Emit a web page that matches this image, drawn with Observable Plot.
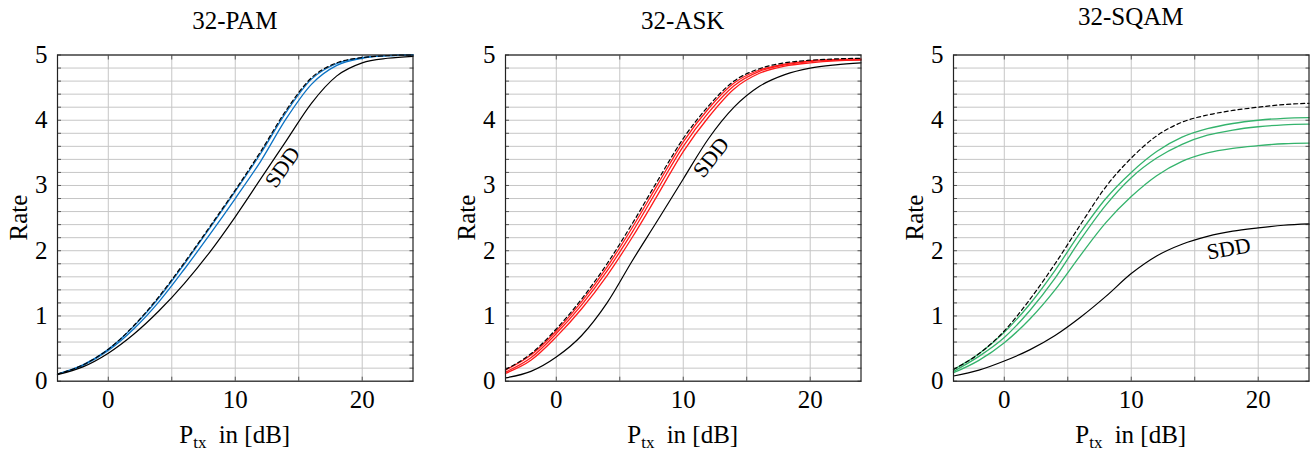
<!DOCTYPE html>
<html>
<head>
<meta charset="utf-8">
<script src="https://cdn.jsdelivr.net/npm/d3@7"></script>
<script src="https://cdn.jsdelivr.net/npm/@observablehq/plot@0.6"></script>
<style>
  body { margin: 0; background: #fff; }
  #wrap { position: relative; width: 1315px; height: 455px; overflow: hidden; background: #fff; }
  #wrap svg { position: absolute; top: 0; }
  #wrap svg text { font-family: 'Liberation Serif', 'Times New Roman', serif; }
</style>
</head>
<body>
<div id="wrap"></div>
<script>
// ---------- data ----------
const ptx = [-4, -2, 0, 2, 4, 6, 8, 10, 12, 14, 16, 18, 20, 22, 24];

const pamBound = [0.11, 0.25, 0.49, 0.85, 1.30, 1.82, 2.37, 2.93, 3.52, 4.15, 4.65, 4.88, 4.96, 4.99, 5.00];
const pamBlue1 = [0.11, 0.25, 0.49, 0.84, 1.28, 1.80, 2.35, 2.91, 3.49, 4.12, 4.63, 4.87, 4.96, 4.99, 5.00];
const pamBlue2 = [0.11, 0.24, 0.47, 0.80, 1.22, 1.72, 2.25, 2.80, 3.37, 4.02, 4.55, 4.84, 4.95, 4.99, 5.00];
const pamSDD   = [0.10, 0.22, 0.43, 0.72, 1.08, 1.50, 1.98, 2.52, 3.10, 3.68, 4.26, 4.68, 4.88, 4.95, 4.98];

const askBound = [0.18, 0.42, 0.80, 1.26, 1.80, 2.42, 3.08, 3.72, 4.22, 4.60, 4.79, 4.88, 4.92, 4.94, 4.95];
const askRed1  = [0.17, 0.40, 0.77, 1.22, 1.75, 2.36, 3.02, 3.67, 4.18, 4.57, 4.77, 4.86, 4.91, 4.93, 4.94];
const askRed2  = [0.14, 0.36, 0.73, 1.17, 1.69, 2.29, 2.95, 3.60, 4.12, 4.53, 4.75, 4.85, 4.90, 4.92, 4.93];
const askRed3  = [0.12, 0.32, 0.68, 1.11, 1.62, 2.21, 2.86, 3.52, 4.05, 4.48, 4.72, 4.83, 4.88, 4.91, 4.92];
const askSDD   = [0.05, 0.15, 0.37, 0.70, 1.20, 1.85, 2.47, 3.10, 3.72, 4.20, 4.52, 4.70, 4.80, 4.85, 4.88];

const sqamBound  = [0.18, 0.42, 0.77, 1.25, 1.80, 2.40, 2.98, 3.42, 3.76, 3.97, 4.08, 4.15, 4.20, 4.24, 4.26];
const sqamGreen1 = [0.18, 0.42, 0.75, 1.18, 1.70, 2.28, 2.80, 3.20, 3.52, 3.74, 3.87, 3.95, 4.00, 4.03, 4.04];
const sqamGreen2 = [0.15, 0.38, 0.67, 1.08, 1.58, 2.17, 2.70, 3.12, 3.42, 3.63, 3.77, 3.85, 3.90, 3.93, 3.94];
const sqamGreen3 = [0.13, 0.32, 0.59, 0.95, 1.40, 1.93, 2.43, 2.83, 3.15, 3.37, 3.50, 3.57, 3.61, 3.64, 3.65];
const sqamSDD    = [0.08, 0.17, 0.31, 0.48, 0.70, 0.98, 1.30, 1.65, 1.92, 2.10, 2.22, 2.30, 2.35, 2.39, 2.41];

const panelTitles = ["32-PAM", "32-ASK", "32-SQAM"];
const xTickLabels = [0, 10, 20];
const yTickLabels = [0, 1, 2, 3, 4, 5];
const xGridTicks = [0, 5, 10, 15, 20];
const yGridTicks = d3.range(0, 26).map(i => i / 5);
const sddLabelAt = [
  {x: 13.73, y: 3.28}, {x: 12.2, y: 3.43}, {x: 17.68, y: 2.03}
];

// ---------- layout/styles ----------
const FONT = "Liberation Serif";
const panels = [
  {frameLeft: 57.0, colored: [pamBlue1, pamBlue2], color: "#0a72c4", bound: pamBound, sdd: pamSDD, rot: -55, titleBase: 29},
  {frameLeft: 504.5, colored: [askRed1, askRed2, askRed3], color: "#ff1a1a", bound: askBound, sdd: askSDD, rot: -52, titleBase: 29},
  {frameLeft: 952.7, colored: [sqamGreen1, sqamGreen2, sqamGreen3], color: "#34b36c", bound: sqamBound, sdd: sqamSDD, rot: -10, titleBase: 25}
];
const FRAME_W = 355.5, ML = 56, MT = 54.5, MB = 74.3, H = 455;

const wrap = document.getElementById("wrap");

panels.forEach((p, pi) => {
  const mr = pi === 2 ? 6 : 12;
  const width = ML + FRAME_W + mr;
  const toRows = (vals, key) => vals.map((v, i) => ({x: ptx[i], y: v, key}));
  const coloredRows = p.colored.flatMap((vals, k) => toRows(vals, "c" + k));
  const boundRows = toRows(p.bound, "bound");
  const sddRows = toRows(p.sdd, "sdd");
  const noText = () => "";
  const intText = d => String(d);
  const svg = Plot.plot({
    width, height: H,
    marginLeft: ML, marginRight: mr, marginTop: MT, marginBottom: MB,
    style: {fontFamily: FONT, fontSize: "25px", color: "#000", background: "transparent", maxWidth: "none"},
    x: {domain: [-4, 24], label: null},
    y: {domain: [0, 5], label: null},
    marks: [
      Plot.gridY(yGridTicks, {stroke: "#c6c6c6", strokeOpacity: 1, strokeWidth: 1}),
      Plot.gridX(xGridTicks, {stroke: "#c6c6c6", strokeOpacity: 1, strokeWidth: 1}),
      Plot.axisY(yGridTicks, {anchor: "left", tickSize: -4, tickFormat: noText, stroke: "#555", label: null}),
      Plot.axisY(yGridTicks, {anchor: "right", tickSize: -4, tickFormat: noText, stroke: "#555", label: null}),
      Plot.axisX(xGridTicks, {anchor: "bottom", tickSize: -4, tickFormat: noText, stroke: "#555", label: null}),
      Plot.axisX(xGridTicks, {anchor: "top", tickSize: -4, tickFormat: noText, stroke: "#555", label: null}),
      Plot.axisY(yTickLabels, {anchor: "left", tickSize: 0, tickPadding: 10, label: null, fontSize: 25, fontFamily: FONT, fontVariant: "normal", tickFormat: intText}),
      Plot.axisX(xTickLabels, {anchor: "bottom", tickSize: 0, tickPadding: 9.5, label: null, fontSize: 25, fontFamily: FONT, fontVariant: "normal", tickFormat: intText}),
      Plot.line(coloredRows, {x: "x", y: "y", z: "key", stroke: p.color, strokeWidth: 1.3, curve: "monotone-x"}),
      Plot.line(sddRows, {x: "x", y: "y", stroke: "#000", strokeWidth: 1.2, curve: "monotone-x"}),
      Plot.line(boundRows, {x: "x", y: "y", stroke: "#000", strokeWidth: 1.2, strokeDasharray: "4,3", curve: "monotone-x"}),
      Plot.text([sddLabelAt[pi]], {x: "x", y: "y", text: () => "SDD", rotate: p.rot, fontSize: 22, fontFamily: FONT, fill: "#000"}),
      Plot.frame({stroke: "#222", strokeWidth: 1.2})
    ]
  });
  svg.style.left = (p.frameLeft - ML) + "px";
  const s = d3.select(svg);
  const cx = ML + FRAME_W / 2;
  // title
  s.append("text").attr("x", cx).attr("y", p.titleBase)
    .attr("text-anchor", "middle").attr("font-size", 25).attr("fill", "#000")
    .text(panelTitles[pi]);
  // y label
  s.append("text").attr("transform", `translate(${ML - 30},${MT + (H - MT - MB) / 2}) rotate(-90)`)
    .attr("text-anchor", "middle").attr("font-size", 25).attr("fill", "#000")
    .text("Rate");
  // x label with subscript
  const xl = s.append("text").attr("x", cx).attr("y", 443)
    .attr("text-anchor", "middle").attr("font-size", 25).attr("fill", "#000");
  xl.append("tspan").text("P");
  xl.append("tspan").attr("font-size", 17).attr("dy", 5).text("tx");
  xl.append("tspan").attr("dy", -5).attr("dx", 6).text(" in [dB]");
  wrap.appendChild(svg);
});
</script>
</body>
</html>
